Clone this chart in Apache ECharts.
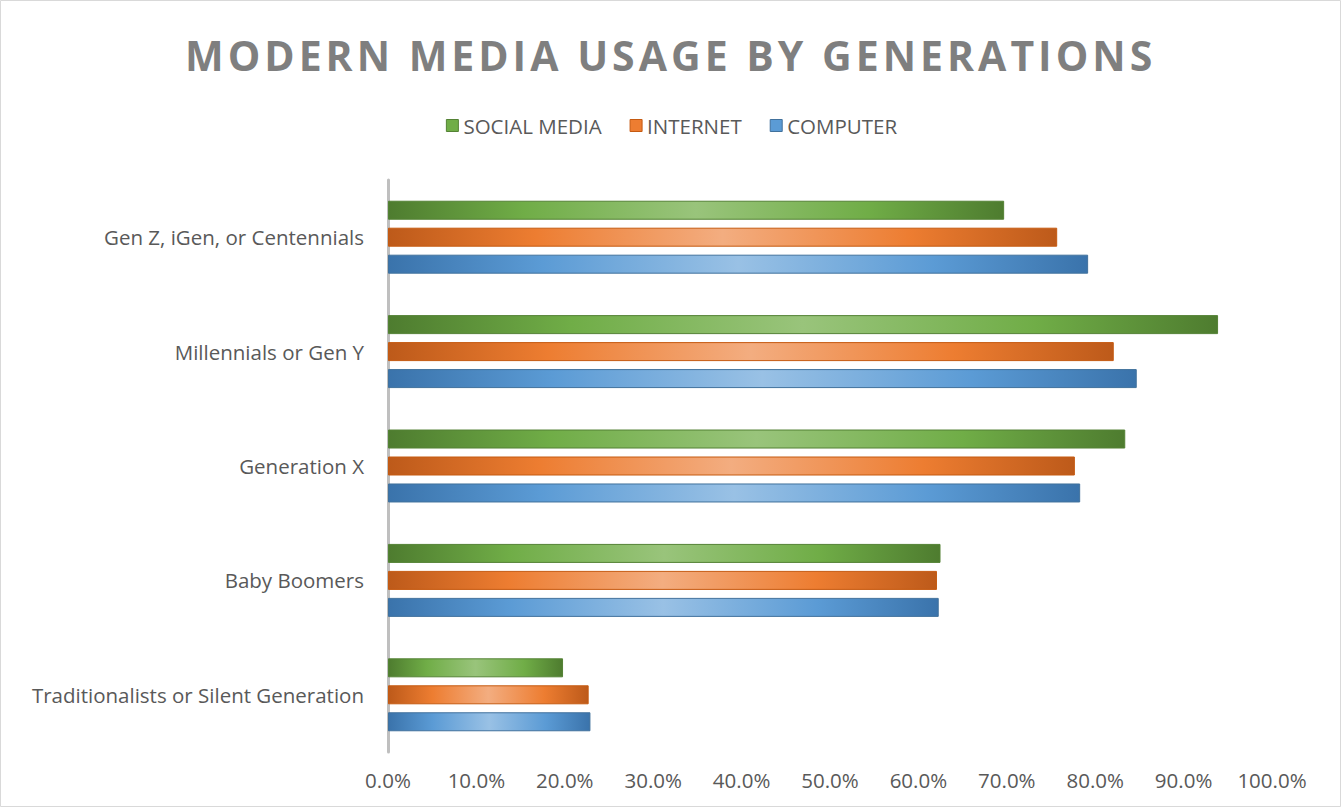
<!DOCTYPE html>
<html>
<head>
<meta charset="utf-8">
<script src="https://cdn.jsdelivr.net/npm/echarts@6/dist/echarts.min.js"></script>
<style>
  html, body { margin: 0; padding: 0; background: #fff; }
  #chart { width: 1343px; height: 808px; }
</style>
</head>
<body>
<div id="chart"></div>
<script>
// Generations, listed bottom to top along the category axis
const categories = [
  'Traditionalists or Silent Generation',
  'Baby Boomers',
  'Generation X',
  'Millennials or Gen Y',
  'Gen Z, iGen, or Centennials'
];

// Share of each generation using the medium (%)
const socialMedia = [19.8, 62.5, 83.4, 93.9, 69.7];
const internet    = [22.7, 62.1, 77.7, 82.1, 75.7];
const computer    = [22.9, 62.3, 78.3, 84.7, 79.2];

const seriesNames = ['SOCIAL MEDIA', 'INTERNET', 'COMPUTER'];

const xTicks = { min: 0, max: 100, interval: 10 };

const TITLE = 'MODERN MEDIA USAGE BY GENERATIONS';
const FONT = '"Open Sans", "Liberation Sans", sans-serif';
const TEXT = '#595959';

// Horizontal sheen: darker at the ends, light in the middle
function sheen(dark, base, light) {
  return new echarts.graphic.LinearGradient(0, 0, 1, 0, [
    { offset: 0, color: dark },
    { offset: 0.22, color: base },
    { offset: 0.5, color: light },
    { offset: 0.78, color: base },
    { offset: 1, color: dark }
  ]);
}

const palette = {
  social:   { dark: '#4e7c2f', base: '#70ad47', light: '#99c47b', edge: '#548235' },
  internet: { dark: '#bd5a1a', base: '#ed7d31', light: '#f3ad80', edge: '#c55a11' },
  computer: { dark: '#3a73ab', base: '#5b9bd5', light: '#99c1e5', edge: '#41719c' }
};

function barSeries(name, data, p) {
  return {
    name: name,
    type: 'bar',
    data: data,
    barWidth: 19,
    barGap: '42%',
    itemStyle: {
      color: sheen(p.dark, p.base, p.light),
      borderColor: p.edge,
      borderWidth: 1
    }
  };
}

const chart = echarts.init(document.getElementById('chart'), null, { renderer: 'svg' });
chart.setOption({
  backgroundColor: '#ffffff',
  animation: false,
  title: {
    text: TITLE,
    left: 180,
    top: 29,
    textStyle: {
      fontFamily: FONT,
      fontWeight: 'bold',
      fontSize: 41,
      color: '#7f7f7f'
    }
  },
  legend: {
    data: [
      { name: seriesNames[0], itemStyle: { color: palette.social.base, borderColor: palette.social.edge, borderWidth: 1 } },
      { name: seriesNames[1], itemStyle: { color: palette.internet.base, borderColor: palette.internet.edge, borderWidth: 1 } },
      { name: seriesNames[2], itemStyle: { color: palette.computer.base, borderColor: palette.computer.edge, borderWidth: 1 } }
    ],
    top: 110,
    left: 'center',
    itemWidth: 12,
    itemHeight: 12,
    itemGap: 28,
    icon: 'rect',
    textStyle: { fontFamily: FONT, fontSize: 20.5, color: TEXT }
  },
  grid: {
    left: 388,
    right: 71,
    top: 180,
    bottom: 56,
    containLabel: false
  },
  xAxis: {
    type: 'value',
    min: xTicks.min,
    max: xTicks.max,
    interval: xTicks.interval,
    axisLine: { show: false },
    axisTick: { show: false },
    splitLine: { show: false },
    axisLabel: {
      formatter: v => v.toFixed(1) + '%',
      fontFamily: FONT,
      fontSize: 20.5,
      color: TEXT,
      margin: 17
    }
  },
  yAxis: {
    type: 'category',
    data: categories,
    axisLine: { show: true, lineStyle: { color: '#bfbfbf', width: 3 } },
    axisTick: { show: false },
    axisLabel: {
      fontFamily: FONT,
      fontSize: 20.5,
      color: TEXT,
      margin: 24,
      padding: [0, 0, 4, 0]
    }
  },
  series: [
    barSeries(seriesNames[0], socialMedia, palette.social),
    barSeries(seriesNames[1], internet, palette.internet),
    barSeries(seriesNames[2], computer, palette.computer)
  ],
  graphic: [{
    type: 'rect',
    shape: { x: 0.5, y: 0.5, width: 1340, height: 806 },
    style: { fill: 'none', stroke: '#d9d9d9', lineWidth: 1 },
    silent: true
  }]
});

// Spread the title letters out a little
document.querySelectorAll('#chart svg text').forEach(t => {
  if (t.textContent === TITLE) t.setAttribute('letter-spacing', '4');
});
</script>
</body>
</html>
